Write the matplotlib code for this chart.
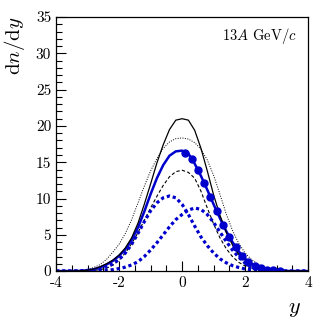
import matplotlib
matplotlib.use("Agg")
import matplotlib.pyplot as plt
from matplotlib.ticker import MultipleLocator

plt.rcParams['font.family'] = ['cmr10', 'DejaVu Serif']
plt.rcParams['mathtext.fontset'] = 'cm'
plt.rcParams['axes.unicode_minus'] = False
plt.rcParams['axes.formatter.use_mathtext'] = True

# ---- data ----
y_grid = [-4.0, -3.4, -3.2, -3.0, -2.8, -2.6, -2.4, -2.2, -2.0, -1.8, -1.6, -1.4, -1.2,
          -1.0, -0.8, -0.6, -0.4, -0.2, 0.0, 0.2, 0.4, 0.6, 0.8, 1.0, 1.2, 1.4, 1.6,
          1.8, 2.0, 2.2, 2.4, 2.6, 2.8, 3.0, 3.2, 3.4, 4.0]

black_solid = [0, 0.02, 0.05, 0.12, 0.3, 0.6, 1.0, 1.5, 2.2, 3.2, 4.6, 6.6, 9.2,
               12.0, 14.9, 17.4, 19.5, 20.8, 21.0, 20.8, 19.4, 16.9, 13.8, 10.5, 7.7, 5.4, 3.6,
               2.3, 1.5, 1.0, 0.65, 0.4, 0.22, 0.1, 0.05, 0.02, 0]

black_dotted = [0, 0.02, 0.06, 0.2, 0.5, 0.9, 1.6, 2.6, 3.7, 5.2, 7.1, 9.4, 11.7,
                13.8, 15.5, 16.9, 17.8, 18.25, 18.35, 18.2, 17.7, 16.8, 15.3, 13.2, 10.6, 7.9, 5.6,
                3.8, 2.5, 1.6, 1.0, 0.55, 0.25, 0.1, 0.04, 0.01, 0]

black_dashed = [0, 0, 0.02, 0.05, 0.1, 0.2, 0.4, 0.8, 1.5, 2.5, 3.8, 5.3, 7.0,
                8.7, 10.3, 11.8, 13.0, 13.7, 13.9, 13.6, 12.8, 11.0, 8.7, 6.5, 4.6, 3.1, 2.0,
                1.2, 0.7, 0.4, 0.2, 0.1, 0.05, 0.02, 0, 0, 0]

blue_solid = [0, 0.01, 0.03, 0.1, 0.25, 0.5, 0.9, 1.4, 2.1, 3.0, 4.3, 6.0, 8.2,
              10.6, 12.8, 14.6, 15.9, 16.5, 16.6, 16.2, 14.8, 13.1, 11.2, 9.2, 7.3, 5.5, 4.0,
              2.7, 1.7, 1.0, 0.6, 0.3, 0.15, 0.07, 0.03, 0.01, 0]

blue_dotted_left = [0, 0.02, 0.05, 0.1, 0.2, 0.35, 0.6, 1.0, 1.6, 2.5, 3.7, 5.2, 6.8,
                    8.3, 9.4, 10.1, 10.35, 10.1, 9.2, 7.8, 6.2, 4.7, 3.5, 2.5, 1.7, 1.15, 0.75,
                    0.5, 0.3, 0.2, 0.1, 0.05, 0.02, 0.01, 0, 0, 0]

blue_dotted_right = [0, 0, 0, 0, 0.02, 0.05, 0.1, 0.2, 0.35, 0.55, 0.85, 1.3, 2.0,
                     2.9, 3.9, 5.0, 6.1, 7.1, 7.8, 8.4, 8.7, 8.5, 7.8, 6.7, 5.4, 4.1, 2.9,
                     1.9, 1.1, 0.55, 0.25, 0.1, 0.05, 0.02, 0, 0, 0]

data_y = [0.1, 0.3, 0.5, 0.7, 0.9, 1.1, 1.3, 1.5, 1.7, 1.9, 2.1, 2.3, 2.5, 2.7, 2.9, 3.1]
data_dndy = [16.3, 15.5, 14.0, 12.2, 10.2, 8.3, 6.4, 4.7, 3.3, 2.1, 1.3, 0.75, 0.4, 0.2, 0.1, 0.05]

x_ticks = [-4, -2, 0, 2, 4]
x_tick_labels = ['-4', '-2', '0', '2', '4']
y_ticks = [0, 5, 10, 15, 20, 25, 30, 35]
y_tick_labels = ['0', '5', '10', '15', '20', '25', '30', '35']

# ---- figure ----
fig = plt.figure(figsize=(3.24, 3.29), dpi=100)
ax = fig.add_axes([0.173, 0.176, 0.778, 0.772])

blue = '#0000cc'
ax.plot(y_grid, black_dotted, color='black', lw=0.7, ls=(0, (1, 1.5)))
ax.plot(y_grid, black_dashed, color='black', lw=0.8, ls=(0, (3, 2)))
ax.plot(y_grid, blue_dotted_left, color=blue, lw=2.3, ls=(0, (1, 0.9)))
ax.plot(y_grid, blue_dotted_right, color=blue, lw=2.3, ls=(0, (1, 0.9)))
ax.plot(y_grid, blue_solid, color=blue, lw=1.8)
ax.plot(y_grid, black_solid, color='black', lw=0.9)
ax.plot(data_y, data_dndy, 'o', color=blue, ms=5, mec=blue)

ax.set_xlim(-4, 4)
ax.set_ylim(0, 35)
ax.set_xticks(x_ticks)
ax.set_xticklabels(x_tick_labels)
ax.set_yticks(y_ticks)
ax.set_yticklabels(y_tick_labels)
ax.xaxis.set_minor_locator(MultipleLocator(0.5))
ax.yaxis.set_minor_locator(MultipleLocator(1))
ax.tick_params(which='both', direction='in', top=False, right=False, labelsize=11)
ax.tick_params(which='major', length=7, width=0.8)
ax.tick_params(which='minor', length=4, width=0.8)
ax.tick_params(axis='x', pad=4)
for s in ax.spines.values():
    s.set_linewidth(0.9)

ax.text(0.955, 0.965, r'$13A$ GeV/$c$', transform=ax.transAxes, ha='right', va='top', fontsize=10.5)
fig.text(0.045, 0.948, r'$\mathrm{d}n/\mathrm{d}y$', rotation=90, ha='center', va='top', fontsize=15)
fig.text(0.91, 0.06, r'$y$', ha='center', va='center', fontsize=16)

fig.savefig('out.png', dpi=100)
